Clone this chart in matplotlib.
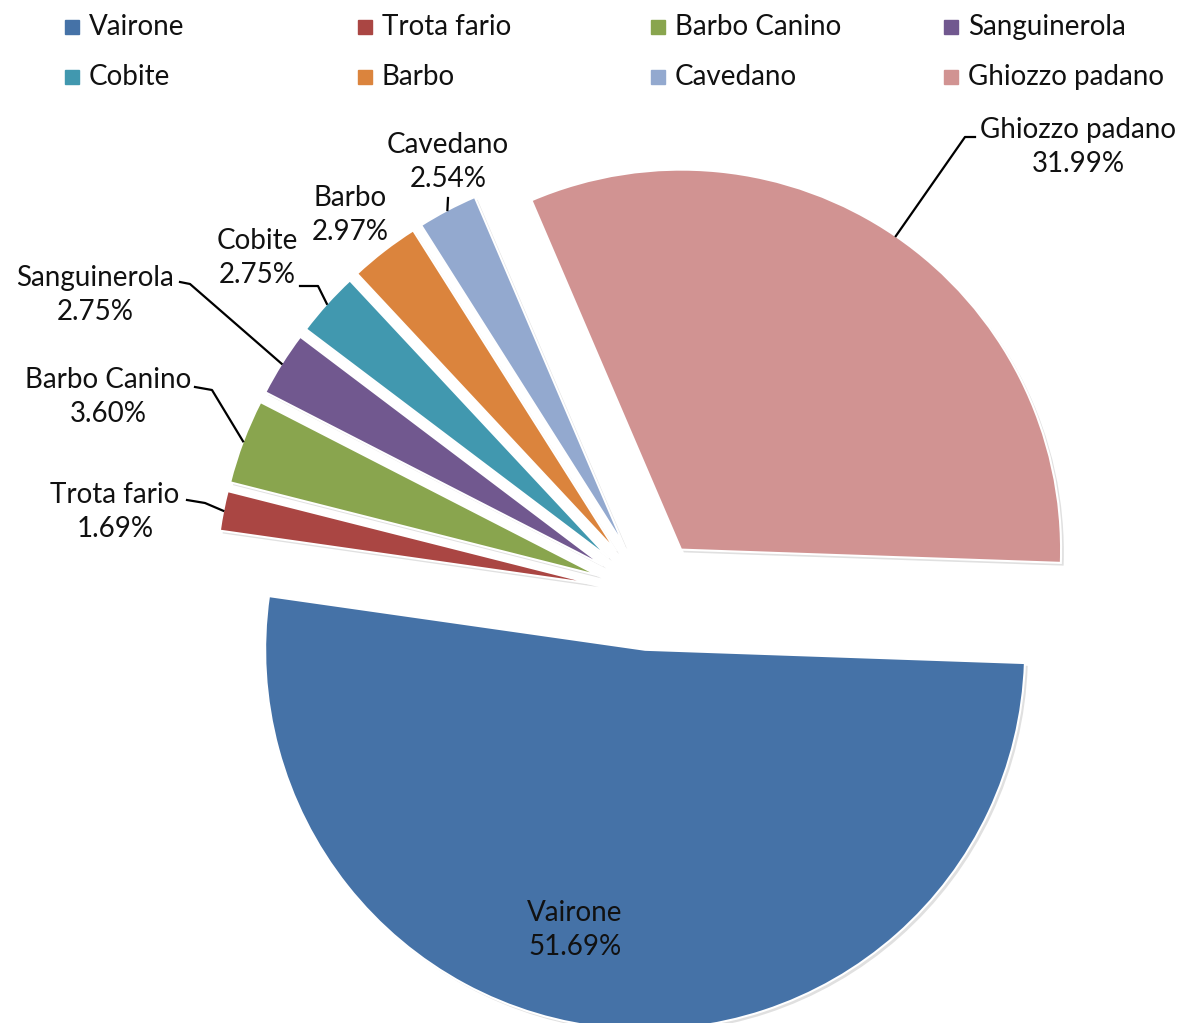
import matplotlib.pyplot as plt
import matplotlib.patheffects as pe
import numpy as np

# data
species = ['Vairone', 'Trota fario', 'Barbo Canino', 'Sanguinerola',
           'Cobite', 'Barbo', 'Cavedano', 'Ghiozzo padano']
percent = [51.69, 1.69, 3.60, 2.75, 2.75, 2.97, 2.54, 31.99]
colors = ['#4572A7', '#AA4643', '#89A54E', '#71588F',
          '#4198AF', '#DB843D', '#93A9CF', '#D19392']

# layout (pixel coords, y up)
W, H = 1185, 1023
label_pos = {
    'Vairone': (575, 93),
    'Trota fario': (115, 511),
    'Barbo Canino': (108, 626),
    'Sanguinerola': (95, 728),
    'Cobite': (257, 765),
    'Barbo': (350, 808),
    'Cavedano': (448, 861),
    'Ghiozzo padano': (1078, 876),
}
# leader line points after the slice anchor (elbow, end)
leaders = {
    'Trota fario': [(205, 520), (187, 523)],
    'Barbo Canino': [(212, 633), (195, 636)],
    'Sanguinerola': [(190, 739), (180, 741)],
    'Cobite': [(318, 737), (300, 737)],
    'Cavedano': [(448, 825)],
    'Ghiozzo padano': [(965, 886), (975, 886)],
}

plt.rcParams['font.family'] = ['Lato', 'DejaVu Sans']
fs = 20

fig = plt.figure(figsize=(W / 100, H / 100), dpi=100)
ax = fig.add_axes([0, 0, 1, 1])

wedges, _ = ax.pie(percent, colors=colors, startangle=-2, counterclock=False,
                   radius=380, center=(650, 428), explode=[55] * len(percent),
                   wedgeprops=dict(edgecolor='white', linewidth=1.5))
for w in wedges:
    w.set_path_effects([pe.SimplePatchShadow(offset=(2, -2), shadow_rgbFace='#999999', alpha=0.3),
                        pe.Normal()])

ax.set_xlim(0, W)
ax.set_ylim(0, H)
ax.axis('off')

# data labels + leader lines
for w, name, v in zip(wedges, species, percent):
    x, y = label_pos[name]
    ax.text(x, y, f'{name}\n{v:.2f}%', ha='center', va='center', fontsize=fs,
            color='#111111', linespacing=1.35)
    if name in leaders:
        mid = np.deg2rad((w.theta1 + w.theta2) / 2)
        cx, cy = w.center
        ax0 = cx + w.r * np.cos(mid)
        ay0 = cy + w.r * np.sin(mid)
        pts = [(ax0, ay0)] + leaders[name]
        ax.plot([p[0] for p in pts], [p[1] for p in pts], color='black', lw=1.6)

# legend, 4 columns x 2 rows
for i, (name, c) in enumerate(zip(species, colors)):
    col, row = i % 4, i // 4
    lx = 72 + col * 293
    ly = H - 27 - row * 50
    ax.plot(lx, ly, marker='s', ms=10, color=c, mec=c)
    ax.text(lx + 17, ly, name, ha='left', va='center', fontsize=fs, color='#111111')

fig.savefig('out.png', dpi=100)
